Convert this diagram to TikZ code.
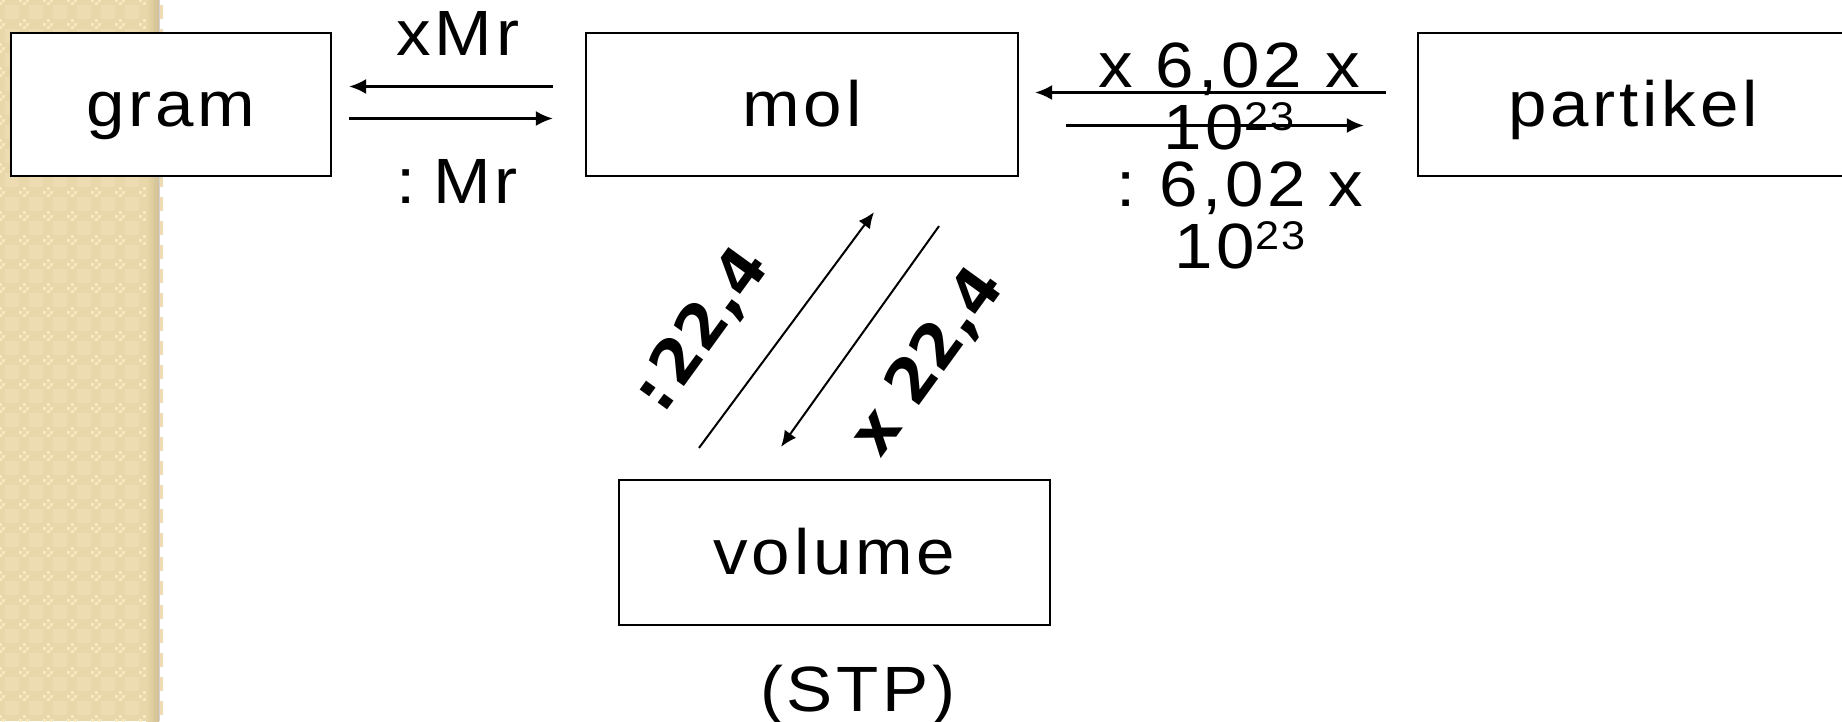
\documentclass[tikz,border=0pt]{standalone}
\usepackage{fontspec}
\setmainfont{Liberation Sans}[FakeStretch=1.08,LetterSpace=6]
\newfontfamily\heavyfont{DejaVu Sans}
\usetikzlibrary{arrows.meta}

\definecolor{bandbase}{HTML}{E8D7A8}
\definecolor{bandtile}{HTML}{EDDCB1}
\definecolor{bandspot}{HTML}{F6E8C3}
\definecolor{bandedge}{HTML}{D2C195}

% raised exponent in the label font
\newcommand\expo[1]{\raisebox{19pt}{\fontsize{40}{40}\selectfont #1}}

\begin{document}
\begin{tikzpicture}[x=1pt,y=-1pt,
  box/.style={draw=black,fill=white,line width=2.2pt,minimum height=143pt,inner sep=0pt,
    text height=60pt,text depth=16pt,font=\fontsize{64}{64}\selectfont},
  conv/.style={line width=2.4pt,-{Latex[length=17pt,width=15pt]}},
  diag/.style={line width=2pt,-{Latex[length=16pt,width=14pt]}},
  lbl/.style={font=\fontsize{64}{62}\selectfont,inner sep=0pt},
  slant/.style={font=\heavyfont\bfseries\fontsize{62}{62}\selectfont,rotate=54,inner sep=0pt}]

\useasboundingbox (0,0) rectangle (1842,721);
\clip (0,0) rectangle (1842,721);

% textured side band
\fill[bandbase] (0,0) rectangle (159,721);
\foreach \i in {0,...,6} {
  \foreach \j in {0,...,30} {
    \fill[bandtile] ({24*\i+5},{24*\j+5}) rectangle +(14,14);
    \fill[bandspot] ({24*\i-1.5},{24*\j-5}) rectangle +(3,3);
    \fill[bandspot] ({24*\i-1.5},{24*\j+2}) rectangle +(3,3);
    \fill[bandspot] ({24*\i-5},{24*\j-1.5}) rectangle +(3,3);
    \fill[bandspot] ({24*\i+2},{24*\j-1.5}) rectangle +(3,3);
  }
}
\shade[left color=bandbase,right color=bandedge] (146,0) rectangle (159,721);
\draw[gray!35,line width=1pt] (159.5,0) -- (159.5,721);

% quantities
\node[box,minimum width=320pt] (gram) at (171,104.5) {gram};
\node[box,minimum width=432pt] (mol) at (802,104.5) {mol};
\node[box,minimum width=430pt] (partikel) at (1633,104.5) {partikel};
\node[box,minimum width=431pt,minimum height=145pt] (volume) at (834.5,552.5) {volume};
\node[lbl,anchor=base] (stp) at (858,711) {(STP)};

% conversion factors
\node[lbl,anchor=base] (xmr) at (458,55) {xMr};
\node[lbl,anchor=base] (dmr) at (457,203) {:\kern18pt Mr};
\node[lbl,align=center] (xav) at (1229,96) {x 6,02 x\\10\expo{23}};
\node[lbl,align=center] (dav) at (1240,215) {:\kern24pt 6,02 x\\10\expo{23}};
\node[slant] (div) at (702,330) {:\kern6pt22,4};
\node[slant] (mul) at (928,362) {x 22,4};

% conversion arrows
\draw[conv] ([xshift=-32pt,yshift=18pt]mol.west) -- ([xshift=17pt,yshift=18pt]gram.east);
\draw[conv] ([xshift=17pt,yshift=-14pt]gram.east) -- ([xshift=-32pt,yshift=-14pt]mol.west);
\draw[conv] ([xshift=-31pt,yshift=12pt]partikel.west) -- ([xshift=16pt,yshift=12pt]mol.east);
\draw[conv] ([xshift=47pt,yshift=-21pt]mol.east) -- ([xshift=-53pt,yshift=-21pt]partikel.west);
\draw[diag] ([xshift=-135.5pt,yshift=31pt]volume.north) -- ([xshift=72pt,yshift=-35pt]mol.south);
\draw[diag] ([xshift=137pt,yshift=-49pt]mol.south) -- ([xshift=-53.5pt,yshift=32pt]volume.north);
\end{tikzpicture}
\end{document}
